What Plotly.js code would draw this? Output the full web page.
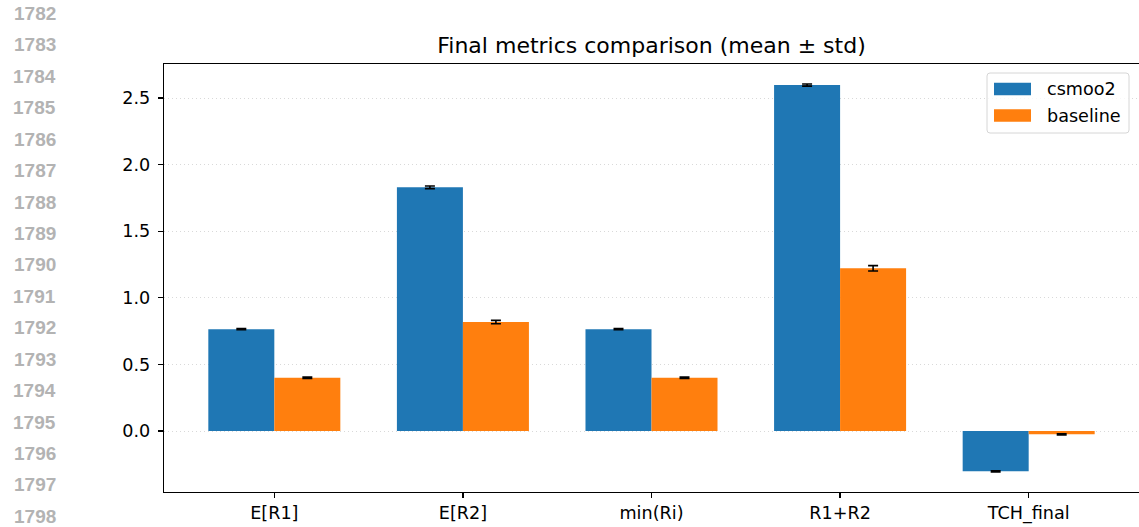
<!DOCTYPE html>
<html>
<head>
<meta charset="utf-8">
<script src="https://cdn.plot.ly/plotly-3.0.1.min.js"></script>
<style>
  html, body { margin: 0; padding: 0; background: #ffffff; }
  #chart { width: 1139px; height: 527px; }
</style>
</head>
<body>
<div id="chart"></div>
<script>
// ---- data ----
const categories = ["E[R1]", "E[R2]", "min(Ri)", "R1+R2", "TCH_final"];
const seriesNames = ["csmoo2", "baseline"];
const csmoo2Mean = [0.765, 1.830, 0.765, 2.598, -0.303];
const csmoo2Std = [0.005, 0.010, 0.005, 0.008, 0.005];
const baselineMean = [0.400, 0.818, 0.400, 1.222, -0.025];
const baselineStd = [0.005, 0.013, 0.005, 0.020, 0.004];
const seriesColors = ["#1f77b4", "#ff7f0e"];
const yTickVals = [0.0, 0.5, 1.0, 1.5, 2.0, 2.5];
const yTickText = ["0.0", "0.5", "1.0", "1.5", "2.0", "2.5"];
const lineNumbers = [1782, 1783, 1784, 1785, 1786, 1787, 1788, 1789, 1790,
                     1791, 1792, 1793, 1794, 1795, 1796, 1797, 1798];

// ---- layout geometry (pixels) ----
const W = 1139, H = 527;
const M = { l: 164, r: 0, t: 64, b: 35 };
const plotW = W - M.l - M.r, plotH = H - M.t - M.b;
const px2x = px => (px - M.l) / plotW;
const px2y = py => (H - M.b - py) / plotH;

const tickFont = { family: "DejaVu Sans", size: 17.6, color: "#000000" };

const traces = [
  {
    type: "bar", name: seriesNames[0], x: categories, y: csmoo2Mean,
    marker: { color: seriesColors[0], line: { width: 0 } },
    error_y: { type: "data", array: csmoo2Std, visible: true, color: "#000000", thickness: 1.6, width: 5 },
    showlegend: false, hoverinfo: "skip"
  },
  {
    type: "bar", name: seriesNames[1], x: categories, y: baselineMean,
    marker: { color: seriesColors[1], line: { width: 0 } },
    error_y: { type: "data", array: baselineStd, visible: true, color: "#000000", thickness: 1.6, width: 5 },
    showlegend: false, hoverinfo: "skip"
  }
];

// custom matplotlib-like legend
const shapes = [];
const annotations = [];
const lgL = 987, lgR = 1129, lgT = 73, lgB = 133, rad = 3;
shapes.push({
  type: "path", xref: "paper", yref: "paper",
  path: `M ${px2x(lgL + rad)} ${px2y(lgT)} L ${px2x(lgR - rad)} ${px2y(lgT)} ` +
        `Q ${px2x(lgR)} ${px2y(lgT)} ${px2x(lgR)} ${px2y(lgT + rad)} ` +
        `L ${px2x(lgR)} ${px2y(lgB - rad)} Q ${px2x(lgR)} ${px2y(lgB)} ${px2x(lgR - rad)} ${px2y(lgB)} ` +
        `L ${px2x(lgL + rad)} ${px2y(lgB)} Q ${px2x(lgL)} ${px2y(lgB)} ${px2x(lgL)} ${px2y(lgB - rad)} ` +
        `L ${px2x(lgL)} ${px2y(lgT + rad)} Q ${px2x(lgL)} ${px2y(lgT)} ${px2x(lgL + rad)} ${px2y(lgT)} Z`,
  fillcolor: "rgba(255,255,255,0.8)", line: { color: "#d6d6d6", width: 1 }, layer: "above"
});
const rowCenters = [89, 115.5];
seriesNames.forEach((name, i) => {
  const cy = rowCenters[i];
  shapes.push({
    type: "rect", xref: "paper", yref: "paper",
    x0: px2x(994), x1: px2x(1031), y0: px2y(cy - 6.3), y1: px2y(cy + 6.3),
    fillcolor: seriesColors[i], line: { width: 0 }, layer: "above"
  });
  annotations.push({
    xref: "paper", yref: "paper", x: px2x(1045), y: px2y(cy),
    xanchor: "left", yanchor: "middle", showarrow: false, text: name,
    font: tickFont
  });
});

// line numbers of the page margin
lineNumbers.forEach((n, i) => {
  annotations.push({
    xref: "paper", yref: "paper", x: px2x(58), y: px2y(13.5 + i * 31.43),
    xanchor: "right", yanchor: "middle", showarrow: false, text: String(n),
    font: { family: "Liberation Sans", size: 19, color: "#b3b3b3", weight: "bold" }
  });
});

const layout = {
  width: W, height: H,
  margin: M,
  paper_bgcolor: "#ffffff", plot_bgcolor: "#ffffff",
  barmode: "group", bargap: 0.3, bargroupgap: 0,
  showlegend: false,
  title: {
    text: "Final metrics comparison (mean ± std)",
    font: { family: "DejaVu Sans", size: 22, color: "#000000" },
    x: 0.5, xref: "paper", xanchor: "center",
    y: 1 - 45 / H, yref: "container", yanchor: "middle"
  },
  xaxis: {
    type: "category", range: [-0.585, 4.585],
    showline: true, linecolor: "#000000", linewidth: 1.2, mirror: true,
    ticks: "outside", ticklen: 5, tickwidth: 1.2, tickcolor: "#000000",
    showgrid: false, zeroline: false, tickfont: tickFont, ticklabelstandoff: 0
  },
  yaxis: {
    range: [-0.458, 2.756],
    tickvals: yTickVals, ticktext: yTickText,
    showline: true, linecolor: "#000000", linewidth: 1.2, mirror: true,
    ticks: "outside", ticklen: 5, tickwidth: 1.2, tickcolor: "#000000",
    showgrid: true, gridcolor: "#d9d9d9", gridwidth: 1, griddash: "1px,3px",
    zeroline: false, tickfont: tickFont, ticklabelstandoff: 4
  },
  shapes: shapes,
  annotations: annotations
};

Plotly.newPlot("chart", traces, layout, { displayModeBar: false, staticPlot: true });
</script>
</body>
</html>
